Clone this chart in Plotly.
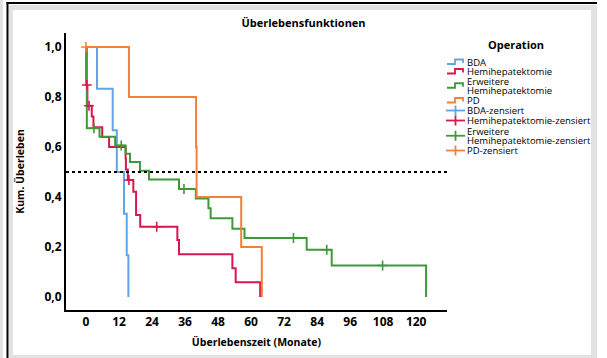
import numpy as np
import plotly.graph_objects as go

# ---------------- data ----------------
groups = ["BDA", "Hemihepatektomie", "Erweitere Hemihepatektomie", "PD"]
colors = ["#62a3e6", "#d8174f", "#3d9a37", "#f37f3a"]

bda_time = [0, 4.0, 9.7, 11.2, 13.8, 14.8, 15.4]
bda_surv = [1.0, 0.833, 0.667, 0.500, 0.333, 0.167, 0.0]
bda_cens = []

hemi_time = [0, 0.1, 0.5, 2.1, 2.7, 5.9, 8.4, 14.4, 14.5, 15.2, 17.2, 18.2, 19.7,
             33.2, 33.8, 53.2, 54.4, 63.3]
hemi_surv = [1.0, 0.848, 0.765, 0.722, 0.679, 0.640, 0.600, 0.553, 0.510, 0.468,
             0.421, 0.328, 0.281, 0.228, 0.171, 0.115, 0.059, 0.0]
hemi_cens = [0.3, 1.1, 15.6, 25.7]

erw_time = [0, 0.3, 4.9, 10.6, 14.4, 16.0, 19.6, 22.9, 33.8, 39.9, 44.5, 45.3,
            53.2, 57.6, 80.2, 89.3, 123.6]
erw_surv = [1.0, 0.675, 0.641, 0.606, 0.573, 0.540, 0.505, 0.470, 0.432, 0.394,
            0.355, 0.315, 0.273, 0.236, 0.189, 0.126, 0.0]
erw_cens = [2.9, 12.8, 35.6, 75.4, 87.5, 107.8]

pd_time = [0, 15.6, 40.0, 40.2, 56.4, 63.9]
pd_surv = [1.0, 0.8, 0.6, 0.4, 0.2, 0.0]
pd_cens = [0.0]

x_ticks = [0, 12, 24, 36, 48, 60, 72, 84, 96, 108, 120]
y_ticks = [0.0, 0.2, 0.4, 0.6, 0.8, 1.0]
median_level = 0.5

series = [
    (bda_time, bda_surv, bda_cens),
    (hemi_time, hemi_surv, hemi_cens),
    (erw_time, erw_surv, erw_cens),
    (pd_time, pd_surv, pd_cens),
]

FONT = "Open Sans"
fig = go.Figure()


def step_value(times, surv, t):
    idx = np.searchsorted(np.asarray(times), np.asarray(t, dtype=float), side="right") - 1
    return list(np.asarray(surv)[idx])


for name, col, (t, s, c) in zip(groups, colors, series):
    fig.add_trace(go.Scatter(x=t, y=s, mode="lines", name=name,
                             line=dict(color=col, width=2, shape="hv"),
                             showlegend=False, hoverinfo="skip"))
for name, col, (t, s, c) in zip(groups, colors, series):
    if len(c):
        fig.add_trace(go.Scatter(x=c, y=step_value(t, s, c), mode="markers",
                                 name=name + "-zensiert",
                                 marker=dict(symbol="cross-thin", size=7,
                                             line=dict(color=col, width=1.6)),
                                 showlegend=False, hoverinfo="skip"))

# ---------------- layout geometry (pixels) ----------------
W_PX, H_PX = 607, 358
L, T, PW, PH = 66, 33, 381, 277


def px(x):
    return (x - L) / PW


def py(y):
    return (T + PH - y) / PH


shapes = []
# outer frame decorations
shapes.append(dict(type="rect", xref="paper", yref="paper", x0=px(0), x1=px(3),
                   y0=py(358), y1=py(0), fillcolor="#e2e2e2", line_width=0, layer="below"))
shapes.append(dict(type="rect", xref="paper", yref="paper", x0=px(9), x1=px(597),
                   y0=py(358), y1=py(5), fillcolor="#e2e2e2", line_width=0, layer="below"))
shapes.append(dict(type="rect", xref="paper", yref="paper", x0=px(13), x1=px(591),
                   y0=py(355), y1=py(10), fillcolor="white", line_width=0, layer="below"))
shapes.append(dict(type="line", xref="paper", yref="paper", x0=px(7.5), x1=px(7.5),
                   y0=py(358), y1=py(2), line=dict(color="black", width=2)))
shapes.append(dict(type="line", xref="paper", yref="paper", x0=px(6.5), x1=px(597),
                   y0=py(3), y1=py(3), line=dict(color="black", width=2)))
# median reference line
shapes.append(dict(type="line", xref="x domain", yref="y", x0=0, x1=1,
                   y0=median_level, y1=median_level,
                   line=dict(color="black", width=1.8, dash="dot")))

# ---------------- manual legend ----------------
annotations = []
annotations.append(dict(text="<b>Operation</b>", xref="paper", yref="paper",
                        x=px(516), y=py(44), xanchor="center", yanchor="middle",
                        showarrow=False, font=dict(family=FONT, size=11, color="black")))

legend_entries = []
for name, col in zip(groups, colors):
    legend_entries.append((name, col, "step"))
for name, col in zip(groups, colors):
    legend_entries.append((name + "-zensiert", col, "cross"))

line_y = [[62], [71.5], [81, 90.5], [100.5], [110.5], [120.5], [131, 140.5], [150.5]]
TX = 465
for (label, col, kind), ys in zip(legend_entries, line_y):
    parts = label.split(" ") if len(ys) == 2 else [label]
    for part, yy in zip(parts, ys):
        annotations.append(dict(text=part, xref="paper", yref="paper", x=px(TX), y=py(yy),
                                xanchor="left", yanchor="middle", showarrow=False,
                                font=dict(family=FONT, size=9.5, color="black")))
    yc = sum(ys) / len(ys)
    if kind == "step":
        path = "M {} {} L {} {} L {} {} L {} {} L {} {}".format(
            px(447), py(yc + 2), px(455), py(yc + 2), px(455), py(yc - 2.5),
            px(463), py(yc - 2.5), px(463), py(yc + 1))
        shapes.append(dict(type="path", xref="paper", yref="paper", path=path,
                           line=dict(color=col, width=1.8)))
    else:
        shapes.append(dict(type="line", xref="paper", yref="paper", x0=px(446), x1=px(465),
                           y0=py(yc), y1=py(yc), line=dict(color=col, width=1.8)))
        shapes.append(dict(type="line", xref="paper", yref="paper", x0=px(455.5), x1=px(455.5),
                           y0=py(yc - 5), y1=py(yc + 5), line=dict(color=col, width=1.8)))

fig.update_layout(
    width=W_PX, height=H_PX,
    margin=dict(l=L, r=W_PX - L - PW, t=T, b=H_PX - T - PH, pad=0),
    paper_bgcolor="white", plot_bgcolor="white",
    separators=",.",
    font=dict(family=FONT, color="black"),
    title=dict(text="<b>Überlebensfunktionen</b>", x=0.5, xref="container",
               y=1 - 23 / H_PX, yref="container", yanchor="middle", xanchor="center",
               font=dict(family=FONT, size=11, color="black")),
    shapes=shapes, annotations=annotations, showlegend=False,
)
fig.update_xaxes(range=[-7.27, 131.2], tickvals=x_ticks, showgrid=False, zeroline=False,
                 showline=True, linecolor="black", linewidth=2, ticks="",
                 tickfont=dict(family=FONT, size=12, color="black", weight="bold"),
                 title=dict(text="<b>Überlebenszeit (Monate)</b>", standoff=9,
                            font=dict(family=FONT, size=10.5, color="black")))
fig.update_yaxes(range=[-0.052, 1.056], tickvals=y_ticks, tickformat=".1f", showgrid=False,
                 zeroline=False, showline=True, linecolor="black", linewidth=2, ticks="",
                 tickfont=dict(family=FONT, size=12, color="black", weight="bold"),
                 title=dict(text="<b>Kum. Überleben</b>", standoff=18,
                            font=dict(family=FONT, size=10.5, color="black")))

fig.write_html("out.html", config={"displayModeBar": False},
               post_script="document.body.style.margin='0';document.body.style.overflow='hidden';")
